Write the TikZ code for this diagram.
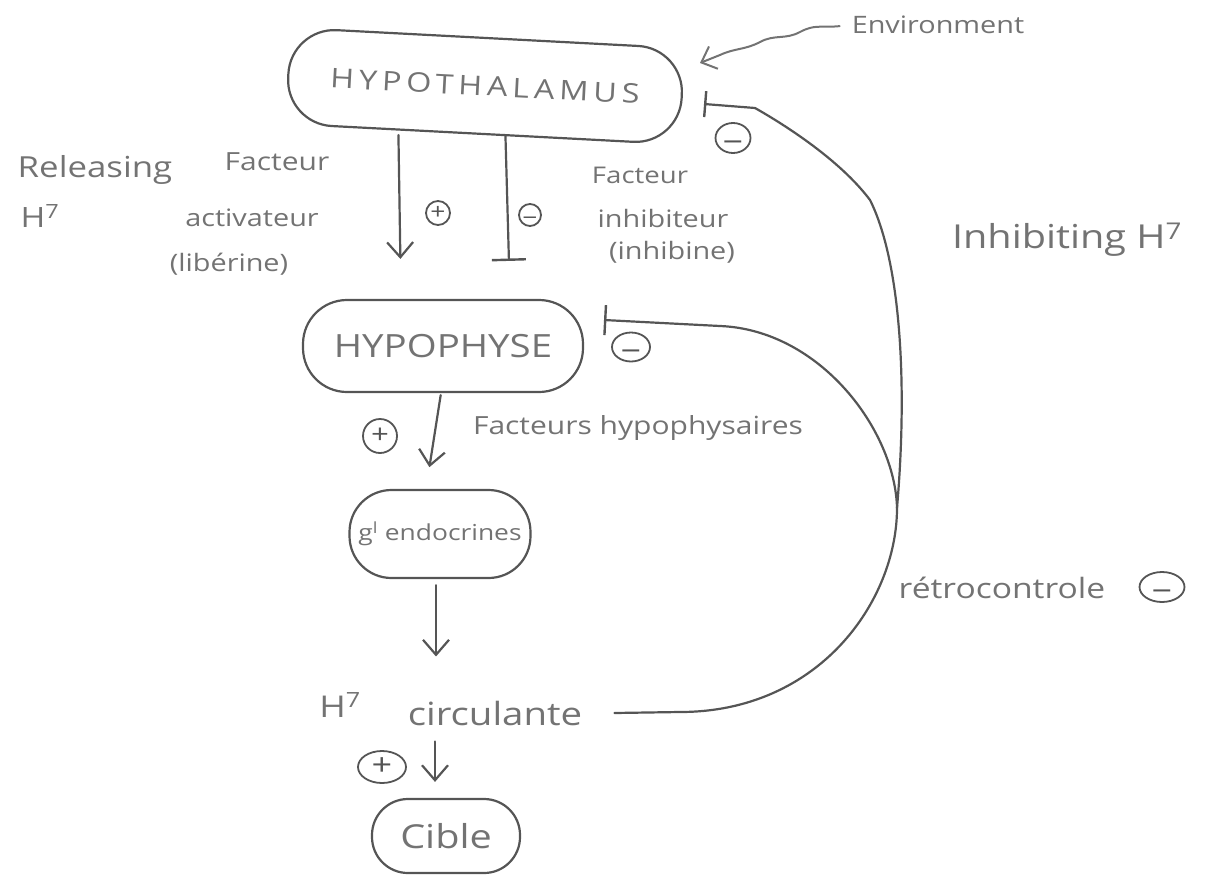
\documentclass[tikz,border=0pt]{standalone}
\usepackage{fontspec}
\setmainfont{Open Sans}[FakeStretch=1.2]
\usetikzlibrary{arrows.meta,shapes.geometric,calc}
\definecolor{inkc}{RGB}{85,85,85}
\definecolor{pencilc}{RGB}{115,115,115}
\newcommand{\fs}[1]{\fontsize{#1}{#1}\selectfont}
\newcommand{\mns}{\raisebox{-0.48em}[0pt][0pt]{−}}
\begin{document}
\begin{tikzpicture}[x=1pt,y=-1pt,
  pen/.style={draw=inkc, line width=2.2pt, line cap=round, line join=round},
  blob/.style={pen, rectangle, text=pencilc, inner sep=0pt},
  lbl/.style={text=pencilc, inner sep=0pt},
  sgn/.style={draw=inkc, line width=1.8pt, ellipse, inner sep=0pt, text=inkc},
  act/.style={pen, -{Straight Barb[length=15pt,width=26pt,line width=2.2pt]}},
  actthin/.style={draw=pencilc, line width=2pt, line cap=round, -{Straight Barb[length=13pt,width=24pt,line width=2pt]}},
  inh/.style={pen, -{Bar[width=#1,line width=2.4pt]}},
]
\useasboundingbox (0,0) rectangle (1222,880);

% main blobs
\node[blob, minimum width=394pt, minimum height=96pt, rounded corners=46pt, rotate=-3,
      font={\fs{27}\addfontfeature{LetterSpace=18}}] (hth) at (485,86) {HYPOTHALAMUS};
\node[blob, minimum width=280pt, minimum height=92pt, rounded corners=44pt,
      font=\fs{32}] (hyp) at (443,346) {HYPOPHYSE};
\node[blob, minimum width=181pt, minimum height=88pt, rounded corners=42pt,
      font=\fs{22}] (gl) at (440,534) {g\textsuperscript{l} endocrines};
\node[blob, minimum width=148pt, minimum height=74pt, rounded corners=36pt,
      font=\fs{33}] (cible) at (446,836) {Cible};

% labels
\node[lbl, font=\fs{24}] (env) at (938,25) {Environment};
\node[lbl, font=\fs{29}] (rel) at (95,170) {Releasing};
\node[lbl, font=\fs{28}] (relH) at (40,216) {H\textsuperscript{7}};
\node[lbl, font=\fs{25}] (fa1) at (277,162) {Facteur};
\node[lbl, font=\fs{24}] (fa2) at (252,218) {activateur};
\node[lbl, font=\fs{24}] (fa3) at (229,264) {(libérine)};
\node[lbl, font=\fs{23}] (fi1) at (640,175) {Facteur};
\node[lbl, font=\fs{24}] (fi2) at (663,218) {inhibiteur};
\node[lbl, font=\fs{24}] (fi3) at (672,252) {(inhibine)};
\node[lbl, font=\fs{33}] (inhib) at (1067,240) {Inhibiting H\textsuperscript{7}};
\node[lbl, font=\fs{25}] (facth) at (638,428) {Facteurs hypophysaires};
\node[lbl, font=\fs{30}] (circH) at (340,705) {H\textsuperscript{7}};
\node[lbl, font=\fs{32}] (circ) at (495,713) {circulante};
\node[lbl, font=\fs{28}] (retro) at (1002,588) {rétrocontrole};

% signs
\node[sgn, minimum width=24pt, minimum height=24pt, font=\fs{22}] (s1) at (438,213) {+};
\node[sgn, minimum width=22pt, minimum height=22pt, font=\fs{22}] (s2) at (530,215) {\mns};
\node[sgn, minimum width=35pt, minimum height=30pt, font=\fs{30}] (s3) at (733,138) {\mns};
\node[sgn, minimum width=38pt, minimum height=29pt, font=\fs{30}] (s4) at (631,347) {\mns};
\node[sgn, minimum width=34pt, minimum height=34pt, font=\fs{26}] (s5) at (380,436) {+};
\node[sgn, minimum width=48pt, minimum height=32pt, font=\fs{30}] (s6) at (382,767) {+};
\node[sgn, minimum width=45pt, minimum height=30pt, font=\fs{30}] (s7) at (1162,587) {\mns};

% free ends
\coordinate (envtip) at (700,63);
\coordinate (hthfb) at (704,104);
\coordinate (hypfb) at (604,320);
\coordinate (junc) at (897,508);

% vertical chain
\draw[act, shorten >=40pt] ([xshift=-84pt]hth.south) -- ([xshift=-42pt]hyp.north);
\draw[inh=34pt, shorten >=38pt] ([xshift=23pt]hth.south) -- ([xshift=67pt]hyp.north);
\draw[act, shorten <=2pt, shorten >=22pt] ([xshift=-2pt]hyp.south) -- ([xshift=-14pt]gl.north);
\draw[act, shorten <=6pt, shorten >=44pt] ([xshift=-4pt]gl.south) -- ([xshift=-4pt]gl.south |- circ.north);
\draw[act, shorten <=16pt, shorten >=16pt] ([xshift=-60pt]circ.south) -- ([xshift=-11pt]cible.north);

% environment
\draw[actthin, shorten <=12pt] (env.west) .. controls (820,28) and (815,24) .. (800,32)
  .. controls (785,40) and (775,34) .. (760,42)
  .. controls (745,50) and (735,48) .. (720,55) -- (envtip);

% feedback loops
\draw[inh=30pt] ([xshift=32pt]circ.east) -- (680,712)
  .. controls (820,712) and (897,600) .. (junc)
  .. controls (895,430) and (820,330) .. (720,326) -- (hypfb);
\draw[inh=26pt] (junc) .. controls (908,380) and (900,260) .. (870,200)
  .. controls (840,160) and (785,125) .. (755,108) -- (hthfb);
\end{tikzpicture}
\end{document}
